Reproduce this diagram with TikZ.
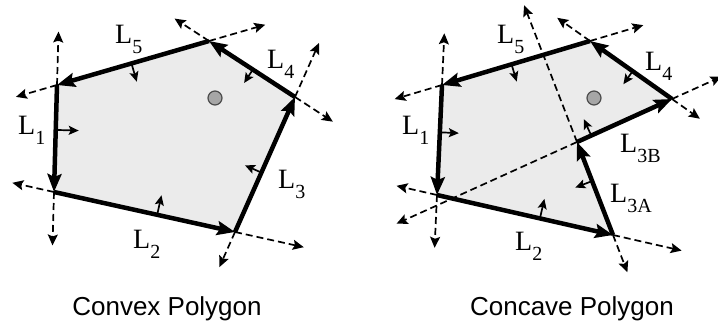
\documentclass[tikz,border=0pt]{standalone}
\usepackage{fontspec}
\setmainfont{Liberation Serif}
\newfontfamily\capfont{Liberation Sans}
\usetikzlibrary{arrows.meta,calc}
\definecolor{polyfill}{gray}{0.92}
\definecolor{dotgray}{gray}{0.65}
\definecolor{dotedge}{gray}{0.3}
\newcommand{\Lname}[1]{L\raisebox{-10pt}{\fontsize{20}{20}\selectfont #1}}
\tikzset{
  edge/.style={line width=4.5pt, -{Stealth[length=18pt,width=14pt,inset=3pt]}},
  ext/.style={line width=1.7pt, dash pattern=on 7pt off 4pt,
    -{Stealth[length=11pt,width=10pt,inset=2pt]}},
  normal/.style={line width=1.7pt, -{Stealth[length=10pt,width=9pt,inset=2pt]}},
  lab/.style={anchor=base west, inner sep=0pt, font=\fontsize{28}{28}\selectfont},
  caption/.style={anchor=base, font=\capfont\fontsize{26}{30}\selectfont},
  dot/.style={circle, draw=dotedge, fill=dotgray, line width=1.2pt,
    minimum size=14pt, inner sep=0pt}
}

\begin{document}
\begin{tikzpicture}[x=1pt, y=-1pt]
  \useasboundingbox (0,0) rectangle (718,322);
  % Convex polygon corners
  \coordinate (a1) at (57,85);
  \coordinate (a2) at (54,192);
  \coordinate (a3) at (235,232);
  \coordinate (a4) at (295,97);
  \coordinate (a5) at (209,41);
  \fill[polyfill] (a1) -- (a2) -- (a3) -- (a4) -- (a5) -- cycle;
  % Edge lines carried past both corners
  \coordinate (as1) at ($(a2)!1.5!(a1)$);  \coordinate (at1) at ($(a1)!1.5!(a2)$);
  \coordinate (as2) at ($(a3)!1.23!(a2)$); \coordinate (at2) at ($(a2)!1.38!(a3)$);
  \coordinate (as3) at ($(a4)!1.26!(a3)$); \coordinate (at3) at ($(a3)!1.4!(a4)$);
  \coordinate (as4) at ($(a5)!1.44!(a4)$); \coordinate (at4) at ($(a4)!1.4!(a5)$);
  \coordinate (as5) at ($(a1)!1.37!(a5)$); \coordinate (at5) at ($(a5)!1.27!(a1)$);
  \draw[ext] (a1) -- (as1); \draw[ext] (a2) -- (at1);
  \draw[ext] (a2) -- (as2); \draw[ext] (a3) -- (at2);
  \draw[ext] (a3) -- (as3); \draw[ext] (a4) -- (at3);
  \draw[ext] (a4) -- (as4); \draw[ext] (a5) -- (at4);
  \draw[ext] (a5) -- (as5); \draw[ext] (a1) -- (at5);
  % Directed edges
  \draw[edge] (a1) -- (a2);
  \draw[edge] (a2) -- (a3);
  \draw[edge] (a3) -- (a4);
  \draw[edge] (a4) -- (a5);
  \draw[edge] (a5) -- (a1);
  % Inward normals
  \coordinate (am1) at ($(a1)!0.42!(a2)$); \coordinate (an1) at ($(am1)!23pt!90:(a2)$);
  \coordinate (am2) at ($(a2)!0.57!(a3)$); \coordinate (an2) at ($(am2)!20pt!90:(a3)$);
  \coordinate (am3) at ($(a3)!0.44!(a4)$); \coordinate (an3) at ($(am3)!18pt!90:(a4)$);
  \coordinate (am4) at ($(a4)!0.49!(a5)$); \coordinate (an4) at ($(am4)!16pt!90:(a5)$);
  \coordinate (am5) at ($(a5)!0.51!(a1)$); \coordinate (an5) at ($(am5)!19pt!90:(a1)$);
  \draw[normal] (am1) -- (an1);
  \draw[normal] (am2) -- (an2);
  \draw[normal] (am3) -- (an3);
  \draw[normal] (am4) -- (an4);
  \draw[normal] (am5) -- (an5);
  \node[dot] (pa) at (215,98) {};
  % Convex labels
  \node[lab] (la1) at (18,134) {\Lname{1}};
  \node[lab] (la2) at (133,248) {\Lname{2}};
  \node[lab] (la3) at (278,188) {\Lname{3}};
  \node[lab] (la4) at (267,68) {\Lname{4}};
  \node[lab] (la5) at (115,43) {\Lname{5}};
  \node[caption] (capa) at (167,315) {Convex Polygon};

  % Concave polygon corners
  \coordinate (b1) at (442,85);
  \coordinate (b2) at (437,195);
  \coordinate (b3) at (613,235);
  \coordinate (b4) at (577,142);
  \coordinate (b5) at (672,99);
  \coordinate (b6) at (590,41);
  \fill[polyfill] (b1) -- (b2) -- (b3) -- (b4) -- (b5) -- (b6) -- cycle;
  % Edge lines carried past both corners
  \coordinate (bs1) at ($(b2)!1.47!(b1)$); \coordinate (bt1) at ($(b1)!1.48!(b2)$);
  \coordinate (bs2) at ($(b3)!1.23!(b2)$); \coordinate (bt2) at ($(b2)!1.39!(b3)$);
  \coordinate (bs3) at ($(b4)!1.4!(b3)$);  \coordinate (bt3) at ($(b3)!2.47!(b4)$);
  \coordinate (bs4) at ($(b5)!2.9!(b4)$);  \coordinate (bt4) at ($(b4)!1.52!(b5)$);
  \coordinate (bs5) at ($(b6)!1.34!(b5)$); \coordinate (bt5) at ($(b5)!1.4!(b6)$);
  \coordinate (bs6) at ($(b1)!1.36!(b6)$); \coordinate (bt6) at ($(b6)!1.32!(b1)$);
  \draw[ext] (b1) -- (bs1); \draw[ext] (b2) -- (bt1);
  \draw[ext] (b2) -- (bs2); \draw[ext] (b3) -- (bt2);
  \draw[ext] (b3) -- (bs3); \draw[ext] (b4) -- (bt3);
  \draw[ext] (b4) -- (bs4); \draw[ext] (b5) -- (bt4);
  \draw[ext] (b5) -- (bs5); \draw[ext] (b6) -- (bt5);
  \draw[ext] (b6) -- (bs6); \draw[ext] (b1) -- (bt6);
  % Directed edges
  \draw[edge] (b1) -- (b2);
  \draw[edge] (b2) -- (b3);
  \draw[edge] (b3) -- (b4);
  \draw[edge] (b4) -- (b5);
  \draw[edge] (b5) -- (b6);
  \draw[edge] (b6) -- (b1);
  % Inward normals
  \coordinate (bm1) at ($(b1)!0.43!(b2)$);  \coordinate (bn1) at ($(bm1)!19pt!90:(b2)$);
  \coordinate (bm2) at ($(b2)!0.585!(b3)$); \coordinate (bn2) at ($(bm2)!20pt!90:(b3)$);
  \coordinate (bm3) at ($(b3)!0.58!(b4)$);  \coordinate (bn3) at ($(bm3)!18pt!90:(b4)$);
  \coordinate (bm4) at ($(b4)!0.15!(b5)$);  \coordinate (bn4) at ($(bm4)!18pt!90:(b5)$);
  \coordinate (bm5) at ($(b5)!0.48!(b6)$);  \coordinate (bn5) at ($(bm5)!16pt!90:(b6)$);
  \coordinate (bm6) at ($(b6)!0.53!(b1)$);  \coordinate (bn6) at ($(bm6)!18pt!90:(b1)$);
  \draw[normal] (bm1) -- (bn1);
  \draw[normal] (bm2) -- (bn2);
  \draw[normal] (bm3) -- (bn3);
  \draw[normal] (bm4) -- (bn4);
  \draw[normal] (bm5) -- (bn5);
  \draw[normal] (bm6) -- (bn6);
  \node[dot] (pb) at (594,98) {};
  % Concave labels
  \node[lab] (lb1) at (402,134) {\Lname{1}};
  \node[lab] (lb2) at (515,250) {\Lname{2}};
  \node[lab] (lb3a) at (610,202) {\Lname{3A}};
  \node[lab] (lb3b) at (620,152) {\Lname{3B}};
  \node[lab] (lb4) at (645,70) {\Lname{4}};
  \node[lab] (lb5) at (497,43) {\Lname{5}};
  \node[caption] (capb) at (572,315) {Concave Polygon};
\end{tikzpicture}
\end{document}
